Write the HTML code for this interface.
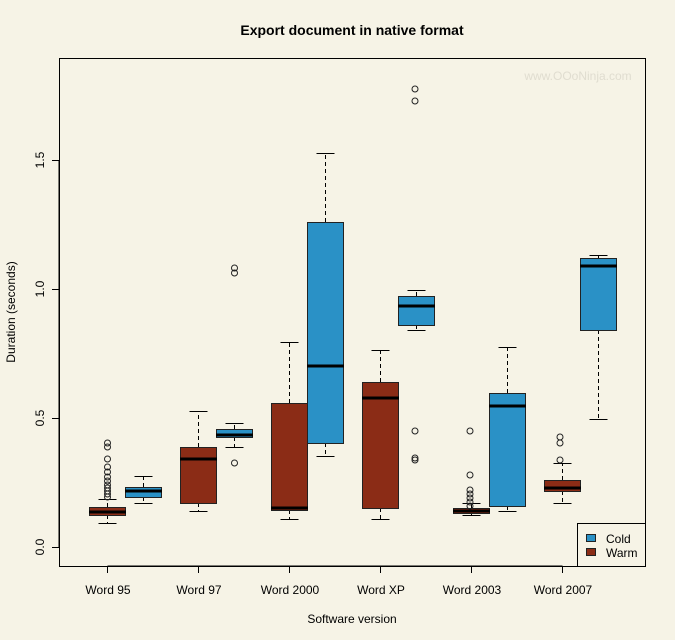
<!DOCTYPE html>
<html><head><meta charset="utf-8"><style>
body{margin:0;background:#f6f3e6}
svg{display:block;font-family:"Liberation Sans",sans-serif}
</style></head><body>
<svg width="675" height="640" viewBox="0 0 675 640" xmlns="http://www.w3.org/2000/svg">
<rect width="675" height="640" fill="#f6f3e6"/>
<text x="352" y="35" text-anchor="middle" font-size="14" font-weight="bold">Export document in native format</text>
<text x="578" y="80" text-anchor="middle" font-size="12" fill="#e0ddd0">www.OOoNinja.com</text>
<rect x="59.5" y="58.5" width="586" height="508" fill="none" stroke="#000"/>
<!-- y axis -->
<g stroke="#000">
<line x1="59" y1="160" x2="59" y2="547"/>
<line x1="52" y1="547.5" x2="59" y2="547.5"/><line x1="52" y1="418.5" x2="59" y2="418.5"/>
<line x1="52" y1="289.5" x2="59" y2="289.5"/><line x1="52" y1="160.5" x2="59" y2="160.5"/>
</g>
<g font-size="12" text-anchor="middle">
<text transform="translate(44,547) rotate(-90)">0.0</text>
<text transform="translate(44,418) rotate(-90)">0.5</text>
<text transform="translate(44,289) rotate(-90)">1.0</text>
<text transform="translate(44,160) rotate(-90)">1.5</text>
<text transform="translate(15,312) rotate(-90)">Duration (seconds)</text>
</g>
<!-- x axis -->
<g stroke="#000"><line x1="107.5" y1="566" x2="562.5" y2="566"/>
<line x1="107.5" y1="566" x2="107.5" y2="573"/><line x1="198.5" y1="566" x2="198.5" y2="573"/>
<line x1="289.5" y1="566" x2="289.5" y2="573"/><line x1="380.5" y1="566" x2="380.5" y2="573"/>
<line x1="471.5" y1="566" x2="471.5" y2="573"/><line x1="562.5" y1="566" x2="562.5" y2="573"/></g>
<g font-size="12" text-anchor="middle">
<text x="108" y="594">Word 95</text><text x="199" y="594">Word 97</text><text x="290" y="594">Word 2000</text>
<text x="381" y="594">Word XP</text><text x="472" y="594">Word 2003</text><text x="563" y="594">Word 2007</text>
<text x="352" y="623">Software version</text>
</g>
<!-- whiskers -->
<g stroke="#000" stroke-width="1" fill="none">
<g stroke-dasharray="4,3">
<path d="M107.5 507V499M107.5 515V523M143.5 487V476M143.5 497V503M198.5 447V411M198.5 503V511M234.5 429V423M234.5 437V447M289.5 403V342M289.5 510V519M325.5 222V153M325.5 443V456M380.5 382V350M380.5 508V519M416.5 296V290M416.5 325V330M471.5 508V503M471.5 513V515M507.5 393V347M507.5 506V511M562.5 480V463M562.5 491V503M598.5 258V255M598.5 330V419"/>
</g>
<path d="M98.5 499.5h18M98.5 523.5h18M134.5 476.5h18M134.5 503.5h18M189.5 411.5h18M189.5 511.5h18M225.5 423.5h18M225.5 447.5h18M280.5 342.5h18M280.5 519.5h18M316.5 153.5h18M316.5 456.5h18M371.5 350.5h18M371.5 519.5h18M407.5 290.5h18M407.5 330.5h18M462.5 503.5h18M462.5 515.5h18M498.5 347.5h18M498.5 511.5h18M553.5 463.5h18M553.5 503.5h18M589.5 255.5h18M589.5 419.5h18"/>
</g>
<!-- boxes -->
<g stroke="#222" stroke-width="1">
<rect x="89.5" y="507.5" width="36" height="8" fill="#8b2c16"/>
<rect x="125.5" y="487.5" width="36" height="10" fill="#2a91c6"/>
<rect x="180.5" y="447.5" width="36" height="56" fill="#8b2c16"/>
<rect x="216.5" y="429.5" width="36" height="8" fill="#2a91c6"/>
<rect x="271.5" y="403.5" width="36" height="107" fill="#8b2c16"/>
<rect x="307.5" y="222.5" width="36" height="221" fill="#2a91c6"/>
<rect x="362.5" y="382.5" width="36" height="126" fill="#8b2c16"/>
<rect x="398.5" y="296.5" width="36" height="29" fill="#2a91c6"/>
<rect x="453.5" y="508.5" width="36" height="5" fill="#8b2c16"/>
<rect x="489.5" y="393.5" width="36" height="113" fill="#2a91c6"/>
<rect x="544.5" y="480.5" width="36" height="11" fill="#8b2c16"/>
<rect x="580.5" y="258.5" width="36" height="72" fill="#2a91c6"/>
</g>
<!-- medians -->
<g stroke="#000" stroke-width="3">
<path d="M89 512h37M125 491h37M180 459h37M216 435h37M271 508h37M307 366h37M362 398h37M398 306h37M453 511h37M489 406h37M544 488h37M580 266h37"/>
</g>
<!-- outliers -->
<g stroke="#222" fill="none" stroke-width="1">
<circle cx="107.5" cy="497" r="3"/><circle cx="107.5" cy="494" r="3"/><circle cx="107.5" cy="491" r="3"/>
<circle cx="107.5" cy="488" r="3"/><circle cx="107.5" cy="485" r="3"/><circle cx="107.5" cy="481" r="3"/>
<circle cx="107.5" cy="477" r="3"/><circle cx="107.5" cy="472" r="3"/><circle cx="107.5" cy="467" r="3"/>
<circle cx="107.5" cy="459" r="3"/><circle cx="107.5" cy="447" r="3"/><circle cx="107.5" cy="443" r="3"/>
<circle cx="234.5" cy="463" r="3"/><circle cx="234.5" cy="268" r="3"/><circle cx="234.5" cy="273" r="3"/>
<circle cx="415" cy="89" r="3"/><circle cx="415" cy="101" r="3"/><circle cx="415" cy="431" r="3"/>
<circle cx="415" cy="458" r="3"/><circle cx="415" cy="460" r="3"/>
<circle cx="470" cy="431" r="3"/><circle cx="470" cy="475" r="3"/><circle cx="470" cy="490" r="3"/>
<circle cx="470" cy="494" r="3"/><circle cx="470" cy="498" r="3"/><circle cx="470" cy="502" r="3"/><circle cx="470" cy="506" r="3"/>
<circle cx="560" cy="437" r="3"/><circle cx="560" cy="443" r="3"/><circle cx="560" cy="460" r="3"/>
</g>
<!-- legend -->
<rect x="577.5" y="523.5" width="68" height="43" fill="#f6f3e6" stroke="#000"/>
<rect x="586.5" y="534.5" width="9" height="7" fill="#2a91c6" stroke="#222"/>
<rect x="586.5" y="548.5" width="9" height="7" fill="#8b2c16" stroke="#222"/>
<text x="606" y="543" font-size="12">Cold</text>
<text x="606" y="557" font-size="12">Warm</text>
</svg>
</body></html>
